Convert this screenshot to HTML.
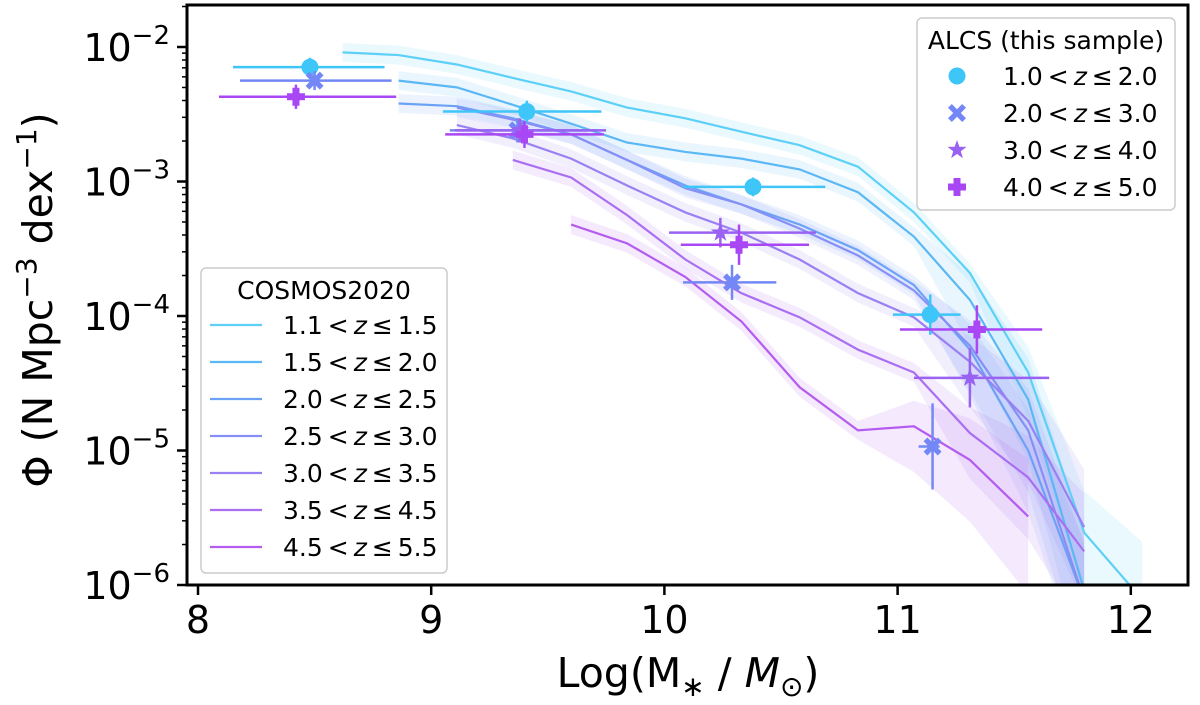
<!DOCTYPE html>
<html><head><meta charset="utf-8"><style>
body{margin:0;background:#fff;}
svg text{font-family:"DejaVu Sans","Liberation Sans",sans-serif;}
</style></head><body>
<svg id="chart" width="1200" height="700" viewBox="0 0 1200 700">
<defs><clipPath id="clip"><rect x="187" y="5" width="1001" height="580"/></clipPath></defs>
<g id="bands" clip-path="url(#clip)"></g>
<g id="lines" clip-path="url(#clip)"></g>
<g id="points" clip-path="url(#clip)"></g>
<rect x="187" y="5" width="1001" height="580" fill="none" stroke="#000" stroke-width="3"/>
<g id="axes"></g>
<text x="688" y="687" font-size="41" text-anchor="middle">Log(M<tspan font-size="28" dy="9">∗</tspan><tspan dy="-9"> / </tspan><tspan font-style="italic">M</tspan><tspan font-size="28" dy="9">⊙</tspan><tspan dy="-9">)</tspan></text>
<text transform="translate(52,300) rotate(-90)" font-size="41" text-anchor="middle">Φ (N Mpc<tspan font-size="28" dy="-16">−3</tspan><tspan dy="16"> dex</tspan><tspan font-size="28" dy="-16">−1</tspan><tspan dy="16">)</tspan></text>
<g id="legend-alcs">
<rect x="917" y="18" width="258" height="192" rx="5" fill="#fff" fill-opacity="0.85" stroke="#ccc" stroke-width="1.5"/>
<text x="1046" y="49" font-size="25" text-anchor="middle">ALCS (this sample)</text>
</g>
<g id="legend-cosmos">
<rect x="201" y="268" width="246" height="305" rx="5" fill="#fff" fill-opacity="0.85" stroke="#ccc" stroke-width="1.5"/>
<text x="324" y="299" font-size="25" text-anchor="middle">COSMOS2020</text>
</g>
</svg>
<script>
const ns="http://www.w3.org/2000/svg";
const massGrid=[8.62,8.86,9.11,9.35,9.60,9.84,10.09,10.33,10.58,10.83,11.07,11.31,11.56,11.80,12.05];
const cosmosLabels=["1.1 < z ≤ 1.5","1.5 < z ≤ 2.0","2.0 < z ≤ 2.5","2.5 < z ≤ 3.0","3.0 < z ≤ 3.5","3.5 < z ≤ 4.5","4.5 < z ≤ 5.5"];
const cosmosStart=[0,1,1,2,2,3,4];
const c1=[-2.04,-2.06,-2.13,-2.23,-2.33,-2.45,-2.53,-2.63,-2.73,-2.89,-3.23,-3.68,-4.42,-5.61,-6.11];
const c2=[-2.25,-2.30,-2.43,-2.57,-2.71,-2.78,-2.83,-2.91,-3.08,-3.41,-3.88,-4.62,-6.04];
const c3=[-2.42,-2.44,-2.53,-2.65,-2.84,-3.03,-3.17,-3.32,-3.51,-3.77,-4.25,-5.00,-6.11];
const c4=[-2.45,-2.54,-2.65,-2.84,-3.05,-3.17,-3.35,-3.55,-3.81,-4.22,-4.85,-6.11];
const c5=[-2.58,-2.68,-2.83,-3.03,-3.23,-3.38,-3.58,-3.83,-4.01,-4.34,-4.78,-5.57];
const c6=[-2.84,-2.97,-3.25,-3.58,-3.83,-4.01,-4.25,-4.42,-4.87,-5.20,-5.75];
const c7=[-3.32,-3.46,-3.71,-4.04,-4.53,-4.85,-4.82,-5.07,-5.49];
const cosmosSeries=[c1,c2,c3,c4,c5,c6,c7];
const cosmosColors=["#5cd0f7","#5bb8f5","#6ca2f6","#868ff5","#9a80f3","#a96ef2","#b45cf0"];
const alcsLabels=["1.0 < z ≤ 2.0","2.0 < z ≤ 3.0","3.0 < z ≤ 4.0","4.0 < z ≤ 5.0"];
const alcsColors=["#3ec6f8","#7387f6","#9a62f2","#a947f5"];
const alcsMarkers=["circle","x","star","plus"];
const alcsMass=[[8.48,9.41,10.38,11.14],[8.50,9.37,10.29,11.15],[9.38,10.24,11.31],[8.42,9.40,10.32,11.34]];
const alcsPhi=[[-2.15,-2.48,-3.04,-3.99],[-2.25,-2.62,-3.75,-4.97],[-2.62,-3.38,-4.46],[-2.37,-2.65,-3.47,-4.10]];
const alcsMassLo=[[8.15,9.05,10.08,10.98],[8.18,9.08,10.08,11.09],[9.10,10.02,11.07],[8.09,9.06,10.07,11.01]];
const alcsMassHi=[[8.80,9.73,10.69,11.27],[8.83,9.71,10.48,11.18],[9.75,10.65,11.65],[8.85,9.74,10.62,11.62]];
const alcsPhiErr=[[0.07,0.08,0.07,0.15],[0.07,0.09,0.13,0.32],[0.09,0.11,0.22],[0.09,0.10,0.15,0.18]];
const xTicks=[8,9,10,11,12];
const yTicks=[-2,-3,-4,-5,-6];

const X=m=>198+(m-8)*233.2;
const Y=l=>47+(-2-l)*134.5;
function el(tag,attrs,parent){const e=document.createElementNS(ns,tag);for(const k in attrs)e.setAttribute(k,attrs[k]);parent.appendChild(e);return e;}
const bands=document.getElementById('bands'),lines=document.getElementById('lines'),pts=document.getElementById('points'),axes=document.getElementById('axes');

cosmosSeries.forEach((s,i)=>{
  const st=cosmosStart[i];
  const up=[],dn=[];
  s.forEach((v,j)=>{const n=s.length;const w=0.07+(j>=n-3?0.12*(j-(n-4)):0);up.push(X(massGrid[st+j])+","+Y(v+w));dn.unshift(X(massGrid[st+j])+","+Y(v-w-(j>=n-3?0.15:0)));});
  const b=el('polygon',{points:up.concat(dn).join(" "),fill:cosmosColors[i],'fill-opacity':0.13},bands);
  
  
  const p=s.map((v,j)=>X(massGrid[st+j])+","+Y(v)).join(" ");
  const l=el('polyline',{points:p,fill:'none',stroke:cosmosColors[i],'stroke-width':2.2},lines);
  
  
});

function marker(type,cx,cy,col,parent,size){
  let m;
  if(type==='circle'){m=el('circle',{cx:cx,cy:cy,r:size*0.85,fill:col},parent);}
  else if(type==='x'){const a=size*0.9,t=size*0.38;m=el('path',{d:`M${cx-a},${cy-a+t}L${cx-a+t},${cy-a}L${cx},${cy-t}L${cx+a-t},${cy-a}L${cx+a},${cy-a+t}L${cx+t},${cy}L${cx+a},${cy+a-t}L${cx+a-t},${cy+a}L${cx},${cy+t}L${cx-a+t},${cy+a}L${cx-a},${cy+a-t}L${cx-t},${cy}Z`,fill:col},parent);}
  else if(type==='star'){let d="";for(let k=0;k<10;k++){const r=k%2?size*0.4:size;const a=-Math.PI/2+k*Math.PI/5;d+=(k?"L":"M")+(cx+r*Math.cos(a))+","+(cy+r*Math.sin(a));}m=el('path',{d:d+"Z",fill:col},parent);}
  else {const a=size*0.9,t=size*0.35;m=el('path',{d:`M${cx-t},${cy-a}H${cx+t}V${cy-t}H${cx+a}V${cy+t}H${cx+t}V${cy+a}H${cx-t}V${cy+t}H${cx-a}V${cy-t}H${cx-t}Z`,fill:col},parent);}
  return m;
}

alcsMass.forEach((ms,i)=>{
  ms.forEach((m,j)=>{
    const g=el('g',{},pts);
    
    
    const cx=X(m),cy=Y(alcsPhi[i][j]);
    el('line',{x1:X(alcsMassLo[i][j]),x2:X(alcsMassHi[i][j]),y1:cy,y2:cy,stroke:alcsColors[i],'stroke-width':2.5},g);
    el('line',{x1:cx,x2:cx,y1:Y(alcsPhi[i][j]+alcsPhiErr[i][j]),y2:Y(alcsPhi[i][j]-alcsPhiErr[i][j]),stroke:alcsColors[i],'stroke-width':2.5},g);
    marker(alcsMarkers[i],cx,cy,alcsColors[i],g,10);
  });
});

xTicks.forEach(t=>{
  const g=el('g',{},axes);
  
  
  el('line',{x1:X(t),x2:X(t),y1:585,y2:595,stroke:'#000','stroke-width':2.5},g);
  const tx=el('text',{x:X(t),y:633,'font-size':38,'text-anchor':'middle'},g);tx.textContent=t;
});
yTicks.forEach(t=>{
  const g=el('g',{},axes);
  
  
  el('line',{x1:177,x2:187,y1:Y(t),y2:Y(t),stroke:'#000','stroke-width':2.5},g);
  for(let k=2;k<10;k++){const yy=Y(t+Math.log10(k));if(yy>5&&yy<585)el('line',{x1:182,x2:187,y1:yy,y2:yy,stroke:'#000','stroke-width':1.5},g);}
  const tx=el('text',{x:170,y:Y(t)+14,'font-size':38,'text-anchor':'end'},g);
  tx.innerHTML='10<tspan font-size="26" dy="-17">−'+(-t)+'</tspan>';
});

function fmt(lab){return lab.replace(' < z ≤ ','\u2009<\u2009<tspan font-style="italic">z</tspan>\u2009≤\u2009');}
const la=document.getElementById('legend-alcs');
alcsLabels.forEach((lab,i)=>{
  const g=el('g',{},la);
  
  
  const y=76+i*37;
  marker(alcsMarkers[i],957,y,alcsColors[i],g,10);
  const t=el('text',{x:1003,y:y+9,'font-size':25},g);
  t.innerHTML=fmt(lab);
});
const lc=document.getElementById('legend-cosmos');
cosmosLabels.forEach((lab,i)=>{
  const g=el('g',{},lc);
  
  
  const y=325+i*37;
  el('line',{x1:210,x2:262,y1:y,y2:y,stroke:cosmosColors[i],'stroke-width':2.2},g);
  const t=el('text',{x:283,y:y+9,'font-size':25},g);
  t.innerHTML=fmt(lab);
});
</script>
</body></html>
